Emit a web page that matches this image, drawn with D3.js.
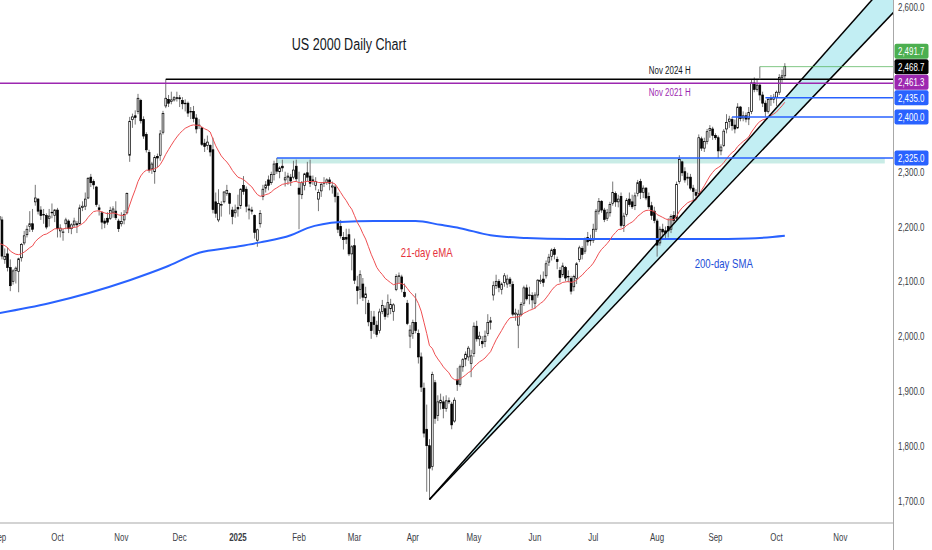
<!DOCTYPE html>
<html>
<head>
<meta charset="utf-8">
<script src="https://cdn.jsdelivr.net/npm/d3@7"></script>
<style>
  html, body { margin: 0; padding: 0; background: #fff; }
  svg { display: block; }
  text { font-family: "Liberation Sans", Arial, sans-serif; }
</style>
</head>
<body>
<div id="chart"></div>
<script>
// daily bars, one per weekday from 2 Sep 2024 to 6 Oct 2025 (no bar on 25 Dec / 1 Jan)
var opens = [
  2218,2212,2140,2150,2125,2100,2120,2118,2143,2170,2185,2200,2205,2245,2250,2230,2222,2220,2215,2226,2220, // Sep
  2230,2192,2190,2205,2210,2196,2203,2205,2205,2235,2237,2252,2290,2282,2272,2234,2225,2210,2215,2215,2226,2228,2210, // Oct
  2205,2212,2225,2330,2395,2402,2410,2430,2395,2368,2335,2305,2300,2328,2330,2372,2420,2432,2428,2431,2435, // Nov
  2435,2430,2425,2425,2410,2410,2398,2385,2380,2352,2348,2348,2340,2245,2212,2240,2245,2260,2260,2230,2225, // Dec
  2235,2238,2275,2268,2232,2230,2220,2175,2205,2255,2270,2285,2280,2295,2315,2300,2310,2285,2290,2290,2290,2310, // Jan
  2270,2258,2275,2298,2292,2285,2275,2250,2265,2280,2280,2285,2272,2272,2255,2200,2180,2180,2185,2150, // Feb
  2165,2090,2085,2095,2070,2060,2025,2035,2020,2010,2045,2050,2040,2050,2045,2085,2110,2108,2080,2060,2000, // Mar
  2005,2025,2005,1962,1905,1830,1800,1762,1915,1855,1878,1880,1868,1882,1876,1845,1920,1912,1944,1958,1962,1950, // Apr
  1968,2018,1995,1990,1990,2005,2025,2075,2092,2100,2085,2098,2095,2104,2094,2040,2020,2040,2060,2088,2075,2074, // May
  2060,2075,2100,2104,2110,2135,2145,2158,2140,2120,2112,2125,2108,2105,2090,2105,2140,2160,2155,2180,2175, // Jun
  2175,2195,2228,2246,2230,2215,2225,2242,2260,2245,2255,2202,2222,2250,2245,2238,2260,2282,2262,2270,2255,2238,2228, // Jul
  2210,2170,2195,2192,2200,2195,2220,2215,2282,2318,2300,2288,2290,2270,2262,2260,2360,2343,2355,2375,2378, // Aug
  2366,2362,2338,2348,2378,2392,2395,2385,2380,2418,2398,2402,2396,2410,2462,2450,2458,2440,2425,2410,2432,2432, // Sep
  2436,2445,2472,2475 // Oct
];
var highs = [
  2222,2218,2160,2162,2140,2122,2127,2143,2170,2192,2202,2228,2232,2276,2252,2237,2232,2224,2232,2242,2232,
  2234,2204,2196,2216,2213,2206,2216,2210,2240,2246,2262,2290,2296,2286,2274,2240,2228,2215,2226,2236,2237,2246,2214,
  2226,2230,2262,2400,2406,2412,2442,2433,2401,2372,2340,2318,2330,2333,2376,2411,2468.7,2440,2446,2438,2446,
  2440,2436,2432,2428,2418,2420,2405,2396,2382,2360,2366,2350,2362,2262,2268,2246,2264,2276,2262,2236,2240,
  2258,2270,2292,2273,2240,2236,2222,2196,2230,2276,2283,2293,2300,2320,2325,2310,2322,2300,2298,2296,2320,2322,
  2300,2283,2298,2318,2322,2293,2290,2268,2281,2290,2288,2290,2282,2276,2262,2212,2190,2196,2196,2166,
  2178,2110,2120,2106,2090,2066,2046,2046,2028,2050,2066,2056,2076,2068,2060,2113,2116,2112,2096,2066,2020,
  2030,2078,2012,1970,1915,1875,1812,1935,1920,1892,1895,1890,1892,1888,1880,1888,1942,1948,1960,1972,1982,1975,
  2025,2028,2008,2000,2010,2040,2035,2100,2112,2104,2098,2115,2112,2108,2100,2050,2048,2062,2092,2094,2090,2080,
  2080,2104,2112,2118,2138,2150,2160,2162,2145,2126,2134,2128,2120,2110,2112,2135,2165,2164,2180,2190,2185,
  2205,2232,2252,2248,2234,2232,2245,2282,2264,2258,2262,2225,2252,2262,2258,2262,2285,2287,2275,2272,2262,2245,2236,
  2214,2200,2205,2200,2215,2222,2228,2282,2330,2320,2308,2298,2296,2276,2268,2368,2364,2362,2378,2385,2382,
  2370,2366,2350,2378,2405,2402,2400,2395,2425,2420,2410,2408,2418,2468,2472,2468,2462,2446,2430,2436,2440,2442,
  2448,2478,2486,2498
];
var lows = [
  2205,2140,2132,2118,2082,2094,2096,2080,2136,2166,2180,2190,2190,2238,2222,2212,2205,2195,2200,2215,2208,
  2180,2180,2174,2195,2188,2186,2198,2188,2204,2228,2230,2250,2272,2268,2236,2220,2195,2197,2203,2212,2216,2212,2190,
  2200,2204,2222,2318,2380,2386,2405,2388,2360,2335,2298,2296,2278,2308,2320,2368,2416,2418,2423,2428,2428,
  2418,2414,2410,2400,2396,2390,2370,2378,2347,2336,2340,2328,2224,2216,2208,2218,2242,2256,2222,2204,2216,
  2218,2232,2258,2226,2213,2222,2178,2163,2198,2248,2262,2266,2276,2284,2296,2288,2300,2273,2276,2274,2286,2282,
  2195,2250,2266,2282,2272,2276,2266,2228,2254,2272,2276,2266,2260,2244,2188,2178,2158,2168,2146,2120,
  2095,2058,2068,2064,2040,2018,1995,2004,1998,2005,2040,2030,2034,2040,2028,2082,2097,2080,2070,2020,1978,
  1995,2005,1950,1898,1815,1716,1702,1755,1840,1845,1866,1850,1862,1876,1830,1842,1900,1908,1935,1945,1955,1925,
  1962,1990,1982,1978,1980,2000,2012,2065,2086,2080,2076,2090,2088,2090,2036,2028,1978,2036,2055,2065,2058,2050,
  2050,2070,2095,2090,2105,2128,2138,2140,2122,2098,2108,2100,2098,2076,2082,2095,2135,2140,2150,2165,2165,
  2170,2190,2222,2225,2208,2210,2218,2238,2236,2235,2198,2190,2218,2236,2232,2230,2255,2250,2252,2248,2232,2212,2206,
  2145,2165,2180,2178,2180,2188,2205,2210,2278,2292,2280,2275,2266,2248,2252,2255,2338,2336,2350,2362,2358,
  2358,2325,2330,2345,2370,2380,2375,2370,2378,2392,2392,2390,2385,2405,2445,2446,2430,2418,2400,2406,2420,2425,
  2420,2440,2462,2470
];
var closes = [
  2212,2146,2145,2125,2092,2119,2124,2141,2167,2183,2195,2205,2195,2252,2228,2220,2221,2199,2219,2225,2230,
  2196,2197,2190,2212,2196,2203,2210,2203,2234,2237,2250,2288,2280,2276,2240,2231,2208,2206,2208,2229,2232,2216,2196,
  2209,2222,2260,2392,2400,2399,2434,2393,2365,2340,2303,2314,2326,2325,2369,2406,2434,2425,2431,2435,2434,
  2433,2424,2425,2407,2409,2397,2378,2384,2350,2346,2354,2336,2231,2224,2242,2240,2263,2266,2242,2218,2230,
  2232,2268,2264,2237,2230,2228,2189,2194,2224,2268,2276,2275,2295,2314,2301,2307,2307,2289,2292,2283,2303,2287,
  2259,2280,2296,2290,2279,2284,2282,2262,2277,2280,2285,2279,2274,2255,2195,2183,2176,2177,2150,2163,
  2102,2083,2112,2071,2077,2026,2010,2021,2003,2044,2056,2036,2061,2058,2057,2109,2110,2086,2072,2023,2011,
  2025,2010,1962,1907,1823,1800,1759,1930,1850,1880,1883,1868,1882,1880,1838,1883,1912,1944,1957,1967,1978,1964,
  2018,1995,2000,1986,2000,2025,2028,2092,2100,2089,2095,2110,2104,2096,2040,2042,2040,2058,2088,2068,2074,2066,
  2075,2102,2102,2098,2132,2144,2157,2149,2136,2107,2128,2106,2109,2082,2109,2132,2161,2149,2177,2172,2175,
  2195,2228,2246,2230,2213,2225,2240,2262,2245,2250,2202,2219,2248,2240,2236,2256,2280,2262,2270,2252,2236,2220,2211,
  2166,2195,2190,2188,2192,2218,2211,2277,2322,2298,2285,2290,2270,2264,2257,2362,2343,2355,2373,2379,2366,
  2362,2338,2345,2374,2390,2396,2384,2378,2418,2397,2402,2396,2408,2462,2450,2458,2440,2425,2410,2432,2434,2436,
  2445,2472,2475,2491.7
];

// 21-day EMA value just before the first bar
var emaSeed = 2165;

// 200-day SMA at a few bars
var smaBars   = [0, 18, 47, 60, 72, 84, 94, 105, 111, 123, 135, 150, 159, 166, 177, 190, 205, 230, 255, 270, 283];
var smaValues = [2042, 2060, 2102, 2126, 2152, 2162, 2171, 2184, 2197, 2208, 2210, 2210, 2203, 2197, 2184, 2179, 2177, 2177, 2177, 2178, 2183];

// x axis: first bar of each month
var monthLabels = ["Sep", "Oct", "Nov", "Dec", "2025", "Feb", "Mar", "Apr", "May", "Jun", "Jul", "Aug", "Sep", "Oct", "Nov"];
var monthBars   = [0, 21, 44, 65, 86, 108, 128, 149, 171, 193, 214, 237, 258, 280, 303];

// y axis
var priceTicks = [1700, 1800, 1900, 2000, 2100, 2200, 2300, 2400, 2500, 2600];

// horizontal levels (price, bar where the line starts)
var levelNames  = ["last", "nov24", "nov21", "l2435", "l2400", "l2325"];
var levelPrices = [2491.7, 2468.7, 2461.3, 2435, 2400, 2325];
var levelStart  = [274, 60, -5, 276, 264, 100];
var zoneBottom = 2315, zoneEnd = 319;

// rising channel from the April low
var channelUpper = [[155, 1702], [315, 2617]];
var channelLower = [[155, 1702], [322, 2590]];

var W = 932, H = 550, plotR = 893.5, plotB = 523;
var levelColor = { last: "#4caf50", nov24: "#000000", nov21: "#9c27b0", l2435: "#2962ff", l2400: "#2962ff", l2325: "#2962ff" };

var svg = d3.select("#chart").append("svg")
    .attr("width", W)
    .attr("height", H)
    .style("background", "#fff");

var x = d3.scaleLinear().domain([0, 280]).range([-0.8, 776.5]);
var y = d3.scaleLinear().domain([1700, 2600]).range([500.5, 7.3]);

// the screenshot is squeezed sideways, so text is drawn narrow too
function label(px, py, str, size, k) {
    return svg.append("text")
        .attr("transform", "translate(" + px + "," + py + ") scale(" + k + ",1)")
        .attr("font-size", size)
        .text(str);
}

svg.append("clipPath").attr("id", "plotclip")
    .append("rect").attr("x", 0).attr("y", 0).attr("width", plotR).attr("height", plotB);

var plot = svg.append("g").attr("clip-path", "url(#plotclip)");

// 2,325 zone fill
plot.append("rect")
    .attr("x", x(levelStart[5]))
    .attr("y", y(levelPrices[5]))
    .attr("width", x(zoneEnd) - x(levelStart[5]))
    .attr("height", y(zoneBottom) - y(levelPrices[5]))
    .attr("fill", "#c9ece6");

// channel fill
function extend(pts, iEnd) {
    var s = (pts[1][1] - pts[0][1]) / (pts[1][0] - pts[0][0]);
    return [pts[0], [iEnd, pts[0][1] + s * (iEnd - pts[0][0])]];
}
var up = extend(channelUpper, 340), lo = extend(channelLower, 340);
plot.append("path")
    .attr("d", "M" + x(up[0][0]) + "," + y(up[0][1]) +
               "L" + x(up[1][0]) + "," + y(up[1][1]) +
               "L" + x(lo[1][0]) + "," + y(lo[1][1]) + "Z")
    .attr("fill", "#c2eef3");

// candles
var bars = d3.range(closes.length);
var candle = plot.append("g").selectAll("g")
    .data(bars)
    .enter()
    .append("g");

candle.append("line")
    .attr("x1", i => x(i)).attr("x2", i => x(i))
    .attr("y1", i => y(Math.max(highs[i], opens[i], closes[i])))
    .attr("y2", i => y(Math.min(lows[i], opens[i], closes[i])))
    .attr("stroke", "#666")
    .attr("stroke-width", 0.9);

candle.append("rect")
    .attr("x", i => x(i) - 0.9)
    .attr("width", 1.8)
    .attr("y", i => y(Math.max(opens[i], closes[i])))
    .attr("height", i => Math.max(0.6, Math.abs(y(opens[i]) - y(closes[i]))))
    .attr("fill", i => closes[i] >= opens[i] ? "#fff" : "#000")
    .attr("stroke", "#000")
    .attr("stroke-width", 0.7);

// 200-day SMA
plot.append("path")
    .datum(smaBars)
    .attr("d", d3.line().x(i => x(i)).y((i, k) => y(smaValues[k])).curve(d3.curveMonotoneX))
    .attr("fill", "none")
    .attr("stroke", "#2962ff")
    .attr("stroke-width", 2);

// 21-day EMA
var alpha = 2 / 22, prev = emaSeed;
var ema = closes.map(function(c) { prev = prev + alpha * (c - prev); return prev; });
plot.append("path")
    .datum(bars)
    .attr("d", d3.line().x(i => x(i)).y(i => y(ema[i])))
    .attr("fill", "none")
    .attr("stroke", "#ef4f52")
    .attr("stroke-width", 1);

// channel lines
[up, lo].forEach(function(l) {
    plot.append("line")
        .attr("x1", x(l[0][0])).attr("y1", y(l[0][1]))
        .attr("x2", x(l[1][0])).attr("y2", y(l[1][1]))
        .attr("stroke", "#000")
        .attr("stroke-width", 1.5);
});

// horizontal levels
levelNames.forEach(function(n, k) {
    plot.append("line")
        .attr("x1", Math.max(0, x(levelStart[k]))).attr("x2", plotR)
        .attr("y1", y(levelPrices[k])).attr("y2", y(levelPrices[k]))
        .attr("stroke", levelColor[n])
        .attr("stroke-width", n == "last" ? 1 : 1.5)
        .attr("stroke-opacity", n == "last" ? 0.7 : 1);
});
plot.append("line")
    .attr("x1", x(levelStart[0])).attr("x2", x(levelStart[0]))
    .attr("y1", y(levelPrices[0])).attr("y2", y(levelPrices[1]))
    .attr("stroke", "#777").attr("stroke-width", 1);

// axes frame
svg.append("line").attr("x1", plotR).attr("x2", plotR).attr("y1", 0).attr("y2", H)
    .attr("stroke", "#a8a8a8").attr("stroke-width", 1);
svg.append("line").attr("x1", 0).attr("x2", plotR).attr("y1", plotB).attr("y2", plotB)
    .attr("stroke", "#a8a8a8").attr("stroke-width", 1.2);

// price label boxes, pushed apart like the original
var fmt = d3.format(",.1f");
var order = d3.range(levelPrices.length).sort((a, b) => levelPrices[a] - levelPrices[b]);
var boxY = [], last = Infinity;
order.forEach(function(k) {
    var c = Math.min(y(levelPrices[k]), last - 15.5);
    boxY[k] = c; last = c;
});

// price ticks (hidden where a box sits on top)
priceTicks.forEach(function(v) {
    var yy = y(v);
    if (boxY.some(b => Math.abs(b - yy) < 10)) return;
    label(898, yy + 4, fmt(v), 11, 0.72).attr("fill", "#3a3d45");
});

levelNames.forEach(function(n, k) {
    svg.append("rect")
        .attr("x", 894.5).attr("y", boxY[k] - 7.5)
        .attr("width", 34).attr("height", 15).attr("rx", 2)
        .attr("fill", levelColor[n]);
    label(898, boxY[k] + 4, fmt(levelPrices[k]), 11, 0.72).attr("fill", "#fff");
});

// month labels
monthLabels.forEach(function(m, k) {
    label(x(monthBars[k]), 541, m, 11, 0.72)
        .attr("text-anchor", "middle")
        .attr("font-weight", m == "2025" ? "bold" : "normal")
        .attr("fill", "#3a3d45");
});

// annotations
label(x(126), y(2522), "US 2000 Daily Chart", 17, 0.74)
    .attr("text-anchor", "middle").attr("fill", "#131722");

label(x(234), y(levelPrices[1]) - 5, "Nov 2024 H", 11, 0.72).attr("fill", "#131722");
label(x(234), y(levelPrices[2]) + 13, "Nov 2021 H", 11, 0.72).attr("fill", "#9c27b0");

label(x(154), y(2144), "21-day eMA", 13, 0.74)
    .attr("text-anchor", "middle").attr("fill", "#e5323c");

label(x(261), y(2124), "200-day SMA", 13, 0.74)
    .attr("text-anchor", "middle").attr("fill", "#1e4fd8");
</script>
</body>
</html>
